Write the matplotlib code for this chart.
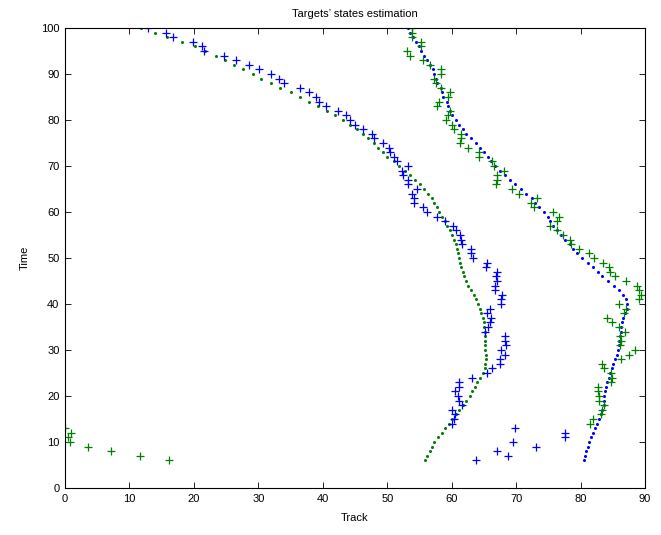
import matplotlib
matplotlib.use("Agg")
import matplotlib.pyplot as plt
import numpy as np

plt.rcParams['font.family'] = ['Liberation Sans', 'DejaVu Sans']

# time steps of the true tracks
t_true = list(range(6, 101))

# target 1 true track (green dots)
track1_x = [55.9, 56.2, 56.6, 56.9, 57.3, 57.9, 58.5, 59.0, 59.6, 60.1,
            60.7, 61.2, 61.7, 62.3, 62.8, 63.2, 63.6, 64.0, 64.4, 64.8,
            65.1, 65.2, 65.3, 65.3, 65.2, 65.2, 65.1, 65.1, 65.1, 65.0,
            65.0, 64.8, 64.6, 64.4, 64.1, 63.8, 63.4, 63.0, 62.6, 62.2,
            61.9, 61.7, 61.5, 61.3, 61.1, 61.0, 60.8, 60.6, 60.3, 60.0,
            59.7, 59.3, 59.0, 58.5, 58.0, 57.8, 57.3, 56.9, 56.3, 55.7,
            55.1, 54.3, 53.5, 52.7, 51.8, 51.0, 50.0, 49.3, 48.6, 47.9,
            47.0, 46.3, 45.3, 44.2, 43.1, 41.9, 40.6, 39.2, 37.9, 36.4,
            35.0, 33.4, 31.9, 30.4, 29.1, 27.6, 26.2, 24.9, 23.4, 21.8,
            20.1, 18.2, 15.9, 14.0, 11.8]

# target 2 true track (blue dots)
track2_x = [80.6, 80.7, 80.9, 81.1, 81.3, 81.6, 81.9, 82.2, 82.6, 82.9,
            83.2, 83.4, 83.6, 83.7, 83.7, 83.8, 83.9, 84.1, 84.4, 84.6,
            84.9, 85.1, 85.4, 85.6, 85.8, 85.9, 86.0, 86.1, 86.2, 86.3,
            86.4, 86.6, 86.9, 87.2, 87.2, 87.1, 86.6, 85.9, 85.2, 84.3,
            83.4, 82.7, 81.9, 81.1, 80.3, 79.5, 78.9, 78.3, 77.6, 77.0,
            76.4, 75.8, 75.3, 74.9, 74.3, 73.6, 73.0, 72.4, 71.6, 70.8,
            69.9, 69.1, 68.3, 67.5, 66.7, 66.1, 65.6, 65.0, 64.4, 63.8,
            63.0, 62.3, 61.7, 61.1, 60.6, 60.1, 59.7, 59.4, 59.2, 58.7,
            58.5, 58.4, 57.8, 57.5, 57.2, 57.1, 56.7, 56.2, 55.7, 55.3,
            55.0, 54.5, 54.0, 53.6, 53.3]

# estimates (blue +), times 6..100
t_est = list(range(6, 101))
est_blue_x = [63.8, 68.7, 67.0, 73.1, 69.5, 77.6, 77.6, 69.9,
              60.1, 60.3, 60.5, 60.1, 61.6, 61.1, 61.0, 60.5, 61.2, 61.1,
              63.2, 65.5, 66.3, 67.5, 67.5, 68.2, 67.7, 68.5, 68.2, 68.3,
              65.2, 65.6, 66.0, 66.1, 65.5, 66.0, 67.7, 67.7, 67.8, 66.7,
              66.8, 67.0, 66.9, 67.0, 65.3, 65.5, 63.3, 63.0, 63.0, 61.6,
              61.4, 61.3, 60.6, 60.2, 59.0, 57.8, 56.2, 55.5, 54.1, 54.2,
              53.8, 54.6, 53.3, 53.3, 52.5, 52.3, 53.3, 51.5, 51.0, 50.5,
              50.2, 49.4, 47.9, 47.6, 46.3, 45.0, 44.3, 43.6, 42.3, 40.5,
              39.4, 39.0, 37.8, 36.5, 34.0, 33.2, 32.0, 30.1, 28.5, 26.6,
              24.7, 21.5, 21.3, 19.8, 16.8, 15.7, 12.9]

# estimates (green +), times 6..100
est_green_x = [16.1, 11.6, 7.2, 3.6, 0.7, 0.5, 0.9, 0.0,
               81.4, 81.9, 83.2, 83.3, 83.6, 82.8, 82.8, 82.7, 82.7, 84.8,
               84.9, 84.8, 83.6, 83.4, 86.3, 87.5, 88.4, 86.1, 86.2, 86.1,
               86.9, 85.9, 84.9, 84.1, 86.7, 87.0, 85.9, 89.1, 89.4, 89.0,
               88.7, 87.1, 85.3, 84.6, 84.4, 83.5, 82.1, 81.3, 79.7, 78.5,
               78.3, 77.3, 76.3, 75.3, 76.3, 76.7, 75.7, 72.7, 72.3, 73.2,
               70.4, 69.4, 66.9, 67.1, 67.1, 68.1, 66.6, 66.3, 64.2, 64.3,
               62.5, 61.3, 61.5, 61.5, 60.3, 60.0, 59.1, 59.4, 59.7, 57.8,
               58.1, 59.5, 59.7, 58.4, 57.5, 57.2, 58.4, 58.4, 56.6, 55.5,
               53.5, 53.1, 55.2, 55.2, 53.9, 53.9, 53.8]

x_ticks = list(range(0, 91, 10))
y_ticks = list(range(0, 101, 10))

blue = (0, 0, 1)
green = (0, 0.5, 0)

fig = plt.figure(figsize=(6.61, 5.35), dpi=100)
ax = fig.add_axes([65/661, 1-488/535, 580/661, 460/535])

ax.plot(track1_x, t_true, linestyle='none', marker='o', markersize=2.2,
        markeredgewidth=0, color=green)
ax.plot(track2_x, t_true, linestyle='none', marker='o', markersize=2.2,
        markeredgewidth=0, color=blue)
ax.plot(est_blue_x, t_est, linestyle='none', marker='+', markersize=5.8,
        markeredgewidth=0.9, color=blue)
ax.plot(est_green_x, t_est, linestyle='none', marker='+', markersize=5.8,
        markeredgewidth=0.9, color=green)

ax.set_xlim(0, 90)
ax.set_ylim(0, 100)
ax.set_xticks(x_ticks)
ax.set_yticks(y_ticks)
ax.tick_params(direction='in', top=True, right=True, length=4, width=0.6,
               labelsize=8, pad=4, colors='black')
for s in ax.spines.values():
    s.set_linewidth(0.8)
ax.set_xlabel('Track', fontsize=8, labelpad=7)
ax.set_ylabel('Time', fontsize=8, labelpad=8)
ax.set_title("Targets’ states estimation", fontsize=8, pad=8)

fig.savefig('out.png', dpi=100)
